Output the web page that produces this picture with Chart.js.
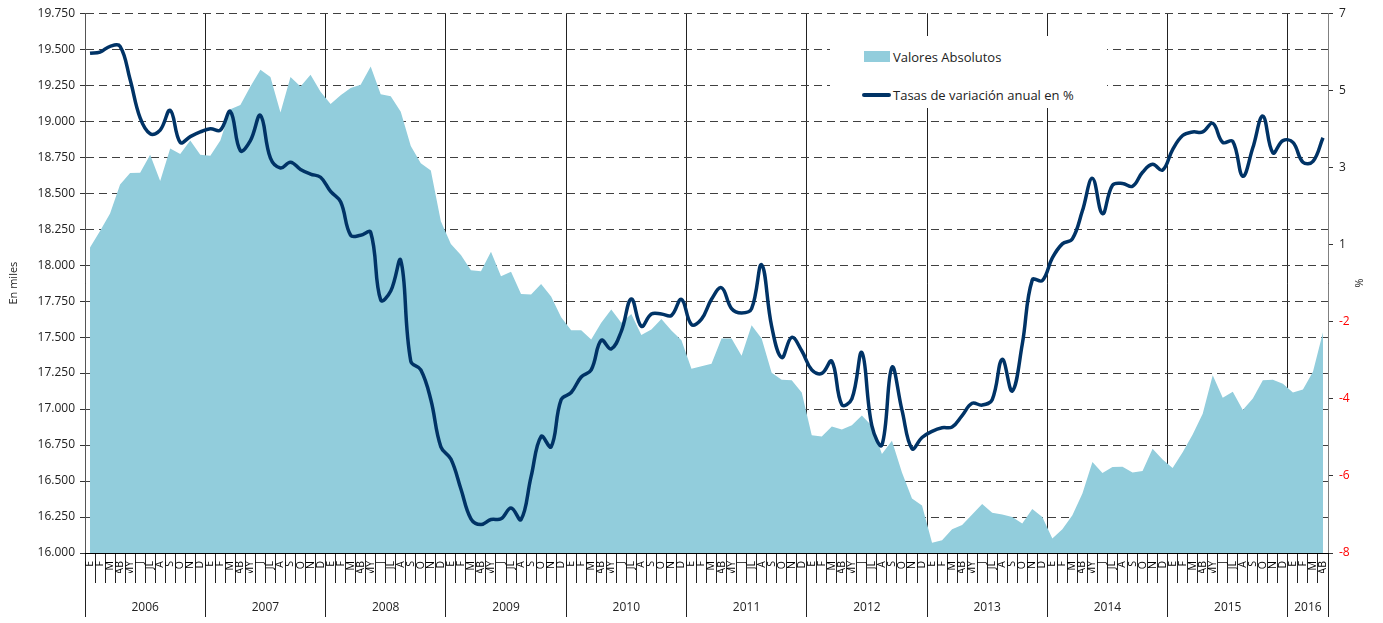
<!DOCTYPE html>
<html>
<head>
<meta charset="utf-8">
<script src="https://cdn.jsdelivr.net/npm/chart.js@4.4.0/dist/chart.umd.min.js"></script>
<style>
    body { margin: 0; background: #fff; }
    #wrap { position: relative; width: 1383px; height: 623px; }
    #legend {
        position: absolute; left: 830px; top: 36px; width: 277px; height: 72px;
        background: #fff; font: 13px 'Open Sans', sans-serif; color: #222;
    }
    #legend .item { position: absolute; left: 63px; line-height: 18px; white-space: nowrap; }
    #legend .box { position: absolute; left: 34px; top: 15px; width: 26px; height: 11px; background: #92cddc; }
    #legend .ln { position: absolute; left: 32px; top: 57px; width: 29px; height: 4px; border-radius: 2px; background: #003366; }
</style>
</head>
<body>
<div id="wrap">
    <canvas id="chartOne"></canvas>
    <div id="legend">
        <span class="box"></span>
        <div class="item" style="top: 12px;">Valores Absolutos</div>
        <span class="ln"></span>
        <div class="item" style="top: 50px;">Tasas de variación anual en %</div>
    </div>
</div>
<script>
const months = ['E', 'F', 'M', 'AB', 'MY', 'J', 'JL', 'A', 'S', 'O', 'N', 'D'];
const years = ['2006', '2007', '2008', '2009', '2010', '2011', '2012', '2013', '2014', '2015', '2016'];

// En miles (eje izquierdo), enero 2006 - abril 2016
const valoresAbsolutos = [
    18122, 18237, 18358, 18560, 18640, 18642, 18767, 18585, 18810, 18772, 18865, 18767,
    18760, 18865, 19083, 19112, 19240, 19358, 19307, 19060, 19307, 19240, 19322, 19205,
    19120, 19180, 19230, 19253, 19380, 19187, 19173, 19065, 18827, 18707, 18658, 18305,
    18147, 18070, 17965, 17958, 18092, 17923, 17953, 17800, 17795, 17868, 17782, 17637,
    17547, 17547, 17483, 17600, 17692, 17600, 17660, 17515, 17553, 17625, 17545, 17478,
    17280, 17297, 17315, 17490, 17490, 17370, 17583, 17490, 17253, 17203, 17200, 17115,
    16818, 16810, 16878, 16858, 16888, 16955, 16883, 16688, 16780, 16560, 16378, 16330,
    16072, 16088, 16165, 16195, 16268, 16340, 16280, 16268, 16250, 16205, 16305, 16250,
    16100, 16165, 16262, 16413, 16633, 16555, 16598, 16600, 16560, 16570, 16725, 16650,
    16590, 16700, 16823, 16968, 17235, 17078, 17120, 16993, 17073, 17200, 17203, 17175,
    17115, 17135, 17260, 17533
];

// % (eje derecho)
const tasasVariacion = [
    5.89, 5.92, 6.08, 6.08, 5.16, 4.09, 3.65, 3.75, 4.30, 3.41, 3.57, 3.70,
    3.79, 3.75, 4.27, 3.18, 3.46, 4.16, 2.97, 2.70, 2.86, 2.66, 2.53, 2.44,
    2.05, 1.76, 0.83, 0.83, 0.91, -0.97, -0.72, 0.13, -2.67, -2.91, -3.74, -5.05,
    -5.39, -6.22, -7.05, -7.21, -7.07, -7.05, -6.75, -7.07, -5.88, -4.76, -5.05, -3.74,
    -3.54, -3.11, -2.91, -2.09, -2.33, -1.84, -0.94, -1.70, -1.36, -1.36, -1.40, -0.95,
    -1.65, -1.50, -0.95, -0.63, -1.21, -1.33, -1.21, 0.01, -1.70, -2.57, -2.01, -2.38,
    -2.91, -3.01, -2.67, -3.88, -3.72, -2.43, -4.47, -5.00, -2.84, -4.03, -5.10, -4.79,
    -4.62, -4.52, -4.50, -4.18, -3.84, -3.89, -3.74, -2.62, -3.50, -2.20, -0.41, -0.43,
    0.20, 0.59, 0.73, 1.51, 2.41, 1.43, 2.22, 2.27, 2.19, 2.58, 2.80, 2.64,
    3.21, 3.60, 3.70, 3.70, 3.94, 3.41, 3.44, 2.47, 3.26, 4.14, 3.12, 3.46,
    3.41, 2.86, 2.88, 3.54
];

const monthLabels = valoresAbsolutos.map((v, i) => months[i % 12]);

// year row: boundaries get a line, centres get the label
const yearTicks = [];
years.forEach((y, k) => {
    const start = k * 12;
    const end = Math.min(start + 12, monthLabels.length);
    yearTicks.push({ value: start, label: '', edge: true });
    yearTicks.push({ value: (start + end) / 2, label: y, edge: false });
});
yearTicks.push({ value: monthLabels.length, label: '', edge: true });

// right axis: 7 equal steps from -8 to 7, labels rounded
const pctMin = -8;
const pctMax = 7;
const pctSteps = 7;

function miles(v) {
    const s = String(Math.round(v));
    return s.slice(0, s.length - 3) + '.' + s.slice(-3);
}

Chart.defaults.font.family = "'Open Sans', sans-serif";
Chart.defaults.color = '#222';

const ctx = document.getElementById('chartOne').getContext('2d');
const myChart = new Chart(ctx, {
    type: 'line',
    data: {
        labels: monthLabels,
        datasets: [
            {
                label: 'Tasas de variación anual en %',
                data: tasasVariacion,
                yAxisID: 'y1',
                borderColor: '#003366',
                borderWidth: 3.5,
                pointRadius: 0,
                tension: 0.4,
                fill: false,
                order: 0
            },
            {
                label: 'Valores Absolutos',
                data: valoresAbsolutos,
                yAxisID: 'y',
                backgroundColor: '#92cddc',
                borderWidth: 0,
                pointRadius: 0,
                tension: 0,
                fill: 'start',
                order: 1
            }
        ]
    },
    options: {
        responsive: true,
        maintainAspectRatio: false,
        animation: false,
        layout: {
            padding: { top: 12, bottom: 6, left: 0, right: 0 }
        },
        plugins: {
            legend: { display: false },
            tooltip: { enabled: false }
        },
        scales: {
            x: {
                type: 'category',
                offset: true,
                weight: 0,
                afterFit: (scale) => { scale.height = 20; },
                grid: {
                    offset: true,
                    drawOnChartArea: false,
                    tickLength: 30,
                    tickColor: '#222'
                },
                border: { display: true, color: '#000', z: 1 },
                ticks: {
                    autoSkip: false,
                    minRotation: 90,
                    maxRotation: 90,
                    padding: -22,
                    color: '#000',
                    font: { size: 10.5 }
                }
            },
            x2: {
                type: 'linear',
                position: 'bottom',
                min: 0,
                max: monthLabels.length,
                weight: 1,
                afterFit: (scale) => { scale.height = 44; },
                afterBuildTicks: (scale) => {
                    scale.ticks = yearTicks.map(t => ({ value: t.value }));
                },
                grid: {
                    drawOnChartArea: true,
                    tickLength: 44,
                    color: (c) => (yearTicks[c.index] && yearTicks[c.index].edge) ? '#222' : 'rgba(0,0,0,0)',
                    tickColor: (c) => (yearTicks[c.index] && yearTicks[c.index].edge) ? '#222' : 'rgba(0,0,0,0)'
                },
                border: { display: false },
                ticks: {
                    autoSkip: false,
                    maxRotation: 0,
                    padding: -17,
                    color: '#222',
                    font: { size: 12 },
                    callback: (value, index) => yearTicks[index] ? yearTicks[index].label : ''
                }
            },
            y: {
                position: 'left',
                min: 16000,
                max: 19750,
                afterFit: (scale) => { scale.width = 85; },
                grid: {
                    color: '#404040',
                    tickLength: 5,
                    tickColor: '#333'
                },
                border: { display: true, color: '#555', dash: [8, 5] },
                ticks: {
                    stepSize: 250,
                    padding: 5,
                    color: '#222',
                    font: { size: 12 },
                    callback: (value) => miles(value)
                },
                title: {
                    display: true,
                    text: 'En miles',
                    color: '#222',
                    font: { size: 11 },
                    padding: { top: 7 }
                }
            },
            y1: {
                position: 'right',
                min: pctMin,
                max: pctMax,
                afterFit: (scale) => { scale.width = 55; },
                afterBuildTicks: (scale) => {
                    const ticks = [];
                    for (let k = 0; k <= pctSteps; k++) {
                        ticks.push({ value: pctMin + k * (pctMax - pctMin) / pctSteps });
                    }
                    scale.ticks = ticks;
                },
                grid: {
                    drawOnChartArea: false,
                    tickLength: 5,
                    tickColor: '#333'
                },
                border: { display: true, color: '#808080' },
                ticks: {
                    padding: 6,
                    font: { size: 12 },
                    color: (c) => c.tick && c.tick.value < 0 ? '#ff0000' : '#222',
                    callback: (value) => String(Math.round(value))
                },
                title: {
                    display: true,
                    text: '%',
                    color: '#222',
                    font: { size: 11 },
                    padding: { top: 18 }
                }
            }
        }
    }
});
</script>
</body>
</html>
